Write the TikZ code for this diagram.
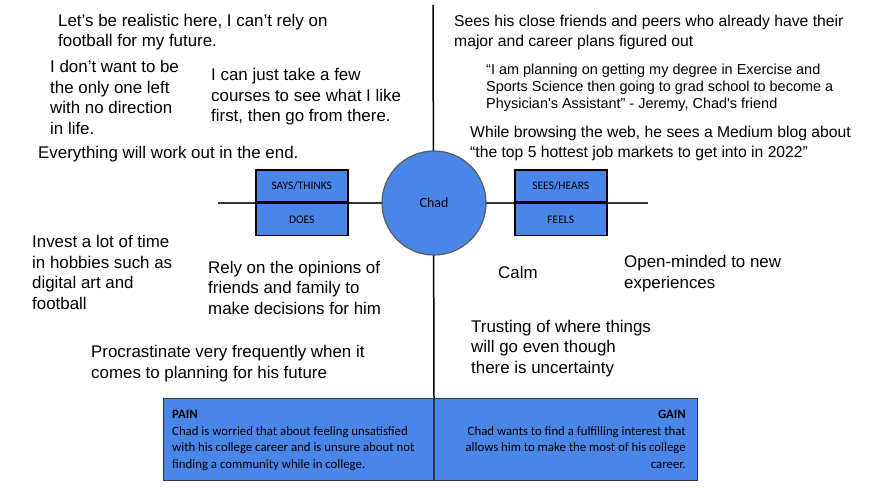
\documentclass[tikz,border=0pt]{standalone}
\usepackage{fontspec}
\setmainfont{Liberation Sans}
\newfontfamily\calibrifont{Carlito}
\usetikzlibrary{positioning}
\definecolor{mapblue}{HTML}{4A86E8}
\definecolor{axisgray}{HTML}{2E3440}
\tikzset{
  quadbox/.style={draw=black, line width=1.5pt, fill=mapblue, minimum width=92pt, minimum height=32pt, inner sep=0pt, font=\calibrifont\fontsize{11.5}{13}\selectfont},
  note/.style={anchor=base west, align=left, inner sep=0pt, font=\fontsize{16.9}{20.5}\selectfont},
  widenote/.style={note, font=\fontsize{15.7}{20}\selectfont},
  smallnote/.style={note, font=\fontsize{14.45}{17}\selectfont},
  panel/.style={draw=axisgray, line width=1pt, fill=mapblue, minimum height=82pt, inner sep=0pt, anchor=north west},
  paneltext/.style={inner sep=0pt, font=\calibrifont\fontsize{12.8}{16.5}\selectfont}
}

\begin{document}
\begin{tikzpicture}[x=1pt, y=-1pt]
\useasboundingbox (0,0) rectangle (870,489);
\coordinate (west) at (218,203);
\coordinate (east) at (648,203);
\coordinate (north) at (433,5);
\draw[axisgray, line width=1.8pt] (west) -- (east);
\node[panel, minimum width=270pt] (pain) at (163,398) {};
\node[panel, minimum width=263pt, right=0pt of pain] (gain) {};
\draw[black, line width=1.5pt] (north) -- (pain.north east);
\node[circle, draw=gray!70!black, line width=1.2pt, fill=mapblue, minimum size=104pt, font=\calibrifont\fontsize{14}{16}\selectfont] (chad) at (434,203) {Chad};
\node[quadbox, anchor=south west] (says) at (255,203) {SAYS/THINKS};
\node[quadbox, below=0pt of says] (does) {DOES};
\node[quadbox, anchor=south west] (sees) at (514,203) {SEES/HEARS};
\node[quadbox, below=0pt of sees] (feels) {FEELS};

\node[note] (realistic) at (58,47) {Let’s be realistic here, I can’t rely on\\football for my future.};
\node[note] (alone) at (50,134.5) {I don’t want to be\\the only one left\\with no direction\\in life.};
\node[note] (courses) at (211,122) {I can just take a few\\courses to see what I like\\first, then go from there.};
\node[note] (workout) at (38,159) {Everything will work out in the end.};
\node[widenote] (peers) at (454,47) {Sees his close friends and peers who already have their\\major and career plans figured out};
\node[smallnote] (quote) at (486,109) {“I am planning on getting my degree in Exercise and\\Sports Science then going to grad school to become a\\Physician\textquotesingle s Assistant” - Jeremy, Chad\textquotesingle s friend};
\node[widenote] (blog) at (470,158) {While browsing the web, he sees a Medium blog about\\“the top 5 hottest job markets to get into in 2022”};
\node[note] (hobbies) at (32,309) {Invest a lot of time\\in hobbies such as\\digital art and\\football};
\node[note] (opinions) at (208,314) {Rely on the opinions of\\friends and family to\\make decisions for him};
\node[note] (procrastinate) at (91,378) {Procrastinate very frequently when it\\comes to planning for his future};
\node[note] (calm) at (498,278) {Calm};
\node[note] (openminded) at (624,288) {Open-minded to new\\experiences};
\node[note] (trusting) at (471,373) {Trusting of where things\\will go even though\\there is uncertainty};

\node[paneltext, anchor=base west, align=left] (paintext) at (172,468) {\textbf{PAIN}\\Chad is worried that about feeling unsatisfied\\with his college career and is unsure about not\\finding a community while in college.};
\node[paneltext, anchor=base east, align=right] (gaintext) at (686,468) {\textbf{GAIN}\\Chad wants to find a fulfilling interest that\\allows him to make the most of his college\\career.};
\end{tikzpicture}
\end{document}
